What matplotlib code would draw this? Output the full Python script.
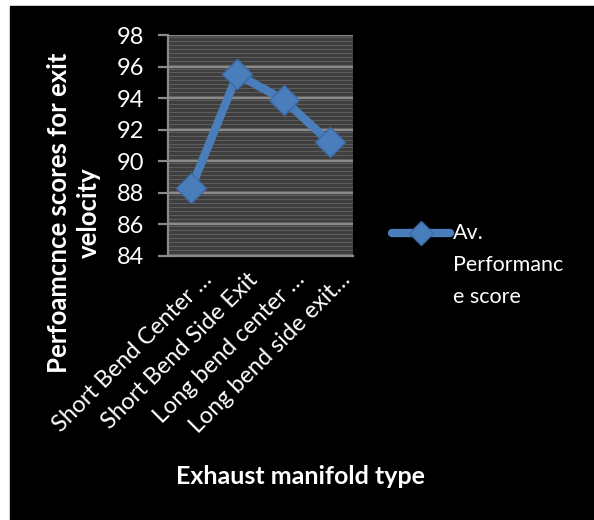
import matplotlib
matplotlib.use("Agg")
import matplotlib.pyplot as plt
import matplotlib.transforms as mtransforms
import numpy as np

categories = ["Short Bend Center \u2026", "Short Bend Side Exit", "Long bend center \u2026", "Long bend side exit\u2026"]
scores = [88.3, 95.5, 93.9, 91.2]
yticks = [84, 86, 88, 90, 92, 94, 96, 98]
series_name = "Av.\nPerformanc\ne score"

plt.rcParams['font.family'] = ['Lato', 'DejaVu Sans']

W, H = 594, 520
fig = plt.figure(figsize=(W/100, H/100), dpi=100)
fig.patch.set_facecolor('white')
# black panel
fig.add_artist(plt.Rectangle((10/W, 0), 1, 1 - 6/H, transform=fig.transFigure, color='black', zorder=-10))

ax = fig.add_axes([168/W, 1 - 256/H, (353-168)/W, (256-35)/H])
ax.set_facecolor('#3e3e3e')
ax.set_ylim(84, 98)
ax.set_xlim(-0.5, 3.5)
# stripe pattern
for yv in np.arange(84, 98, 0.25):
    ax.axhline(yv + 0.125, color='#5c5c5c', lw=0.8, zorder=0)
for yv in yticks:
    ax.axhline(yv, color='#8a8a8a', lw=1.6, zorder=1)

x = np.arange(len(categories))
ax.plot(x, scores, color='#4a7ebb', lw=6, marker='D', ms=15, mfc='#4a7ebb', mec='#3a6aa8', mew=1, zorder=3, solid_capstyle='round')

for s in ['top', 'right']:
    ax.spines[s].set_visible(False)
for s in ['left', 'bottom']:
    ax.spines[s].set_color('#8a8a8a')
    ax.spines[s].set_linewidth(1.6)

ax.set_yticks(yticks)
ax.set_yticklabels([str(v) for v in yticks], color='white', fontsize=17)
ax.tick_params(axis='y', length=7, color='#8a8a8a', width=1.6, pad=10)
ax.set_xticks(x)
ax.set_xticklabels(categories, rotation=45, ha='right', va='top', rotation_mode='anchor', color='white', fontsize=16.8)
ax.tick_params(axis='x', length=0, pad=4)
offset = mtransforms.ScaledTranslation(10/100, -7/100, fig.dpi_scale_trans)
for lbl in ax.get_xticklabels():
    lbl.set_transform(lbl.get_transform() + offset)

fig.text(74/W, 1 - 213/H, "Perfoamcnce scores for exit\nvelocity", rotation=90, ha='center', va='center',
         color='white', fontsize=18.5, fontweight='bold', linespacing=1.3)
fig.text(300/W, 1 - 476/H, "Exhaust manifold type", ha='center', va='center', color='white', fontsize=18, fontweight='bold')

# legend
leg_line = matplotlib.lines.Line2D([392/W, 450/W], [1 - 233/H, 1 - 233/H], transform=fig.transFigure,
                                   color='#4a7ebb', lw=6, solid_capstyle='round')
fig.add_artist(leg_line)
leg_mk = matplotlib.lines.Line2D([421/W], [1 - 233/H], transform=fig.transFigure, marker='D', ms=12,
                                 color='#4a7ebb', mec='#3a6aa8', lw=0)
fig.add_artist(leg_mk)
fig.text(453/W, 1 - 223/H, series_name, ha='left', va='top', color='white', fontsize=15.5, linespacing=1.75)

fig.savefig("out.png", dpi=100, facecolor=fig.get_facecolor())
